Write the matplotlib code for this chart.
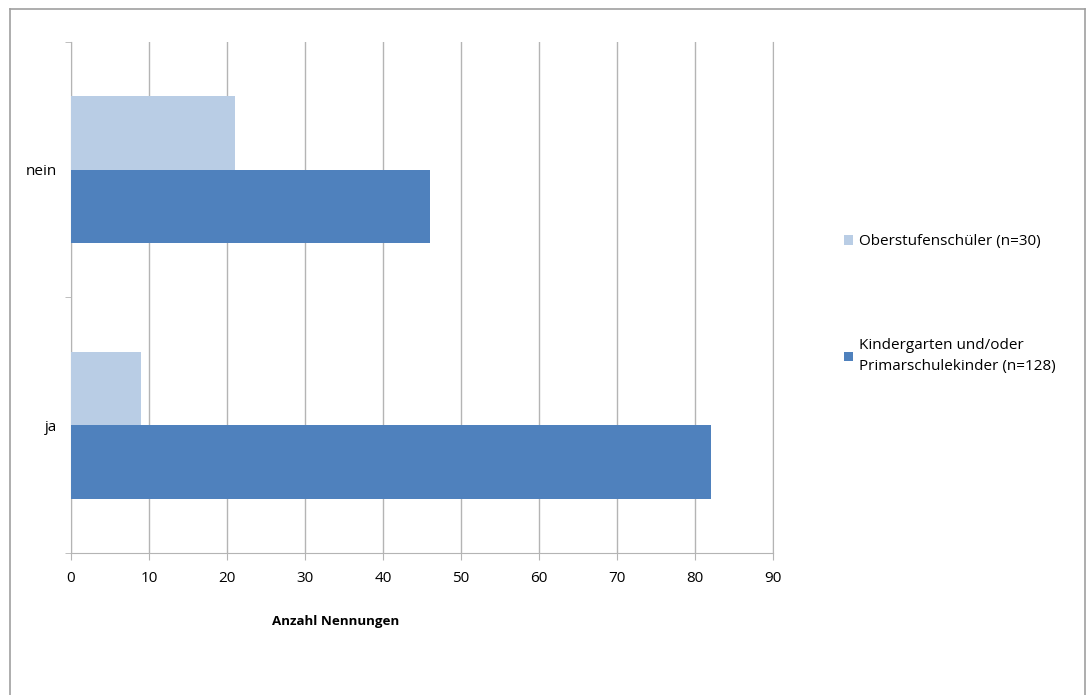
import matplotlib as mpl
import matplotlib.pyplot as plt
from matplotlib.lines import Line2D
import numpy as np

mpl.rc('font', family=['Open Sans', 'DejaVu Sans'], size=11)

categories = ['ja', 'nein']
oberstufe = [9, 21]
kindergarten = [82, 46]
labels = ['Oberstufenschüler (n=30)', 'Kindergarten und/oder\nPrimarschulekinder (n=128)']
x_ticks = list(range(0, 100, 10))

c_light = '#B9CDE5'
c_dark = '#4F81BD'
c_grid = '#B4B4B4'

fig = plt.figure(figsize=(10.87, 6.95), dpi=100)
ax = fig.add_axes([0.0653, 0.2043, 0.6458, 0.7353])

y = np.arange(len(categories))
h = 0.2875
b1 = ax.barh(y + h / 2, oberstufe, height=h, color=c_light, zorder=3)
b2 = ax.barh(y - h / 2, kindergarten, height=h, color=c_dark, zorder=3)

ax.set_xlim(0, 90)
ax.set_ylim(-0.5, 1.5)
ax.set_xticks(x_ticks)
ax.set_yticks(y)
ax.set_yticklabels(categories)
ax.set_yticks([-0.5, 0.5, 1.5], minor=True)
ax.tick_params(axis='y', which='major', length=0, pad=10)
ax.tick_params(axis='y', which='minor', length=4, color=c_grid)
ax.tick_params(axis='x', length=5, color=c_grid, pad=8)
ax.xaxis.grid(True, color=c_grid, linewidth=1, zorder=0)
ax.spines['top'].set_visible(False)
for s in ['left', 'bottom', 'right']:
    ax.spines[s].set_color(c_grid)

ax.set_xlabel('Anzahl Nennungen', fontsize=9.6, fontweight='bold')
ax.xaxis.set_label_coords(0.377, -0.122)

leg = fig.legend([b1, b2], labels, loc='upper left', bbox_to_anchor=(0.764, 0.683),
                 frameon=False, handlelength=0.6, handleheight=0.6, handletextpad=0.35,
                 labelspacing=5.85, fontsize=11)
for t in leg.get_texts():
    t.set_linespacing(1.55)

# gray frame around the chart
fig.add_artist(Line2D([0.0092, 0.0092], [0, 0.987], color='#A0A0A0', lw=1.2))
fig.add_artist(Line2D([0.0092, 0.9985], [0.987, 0.987], color='#A0A0A0', lw=1.2))
fig.add_artist(Line2D([0.9985, 0.9985], [0, 0.987], color='#A0A0A0', lw=1.2))

fig.savefig('out.png', dpi=100)
